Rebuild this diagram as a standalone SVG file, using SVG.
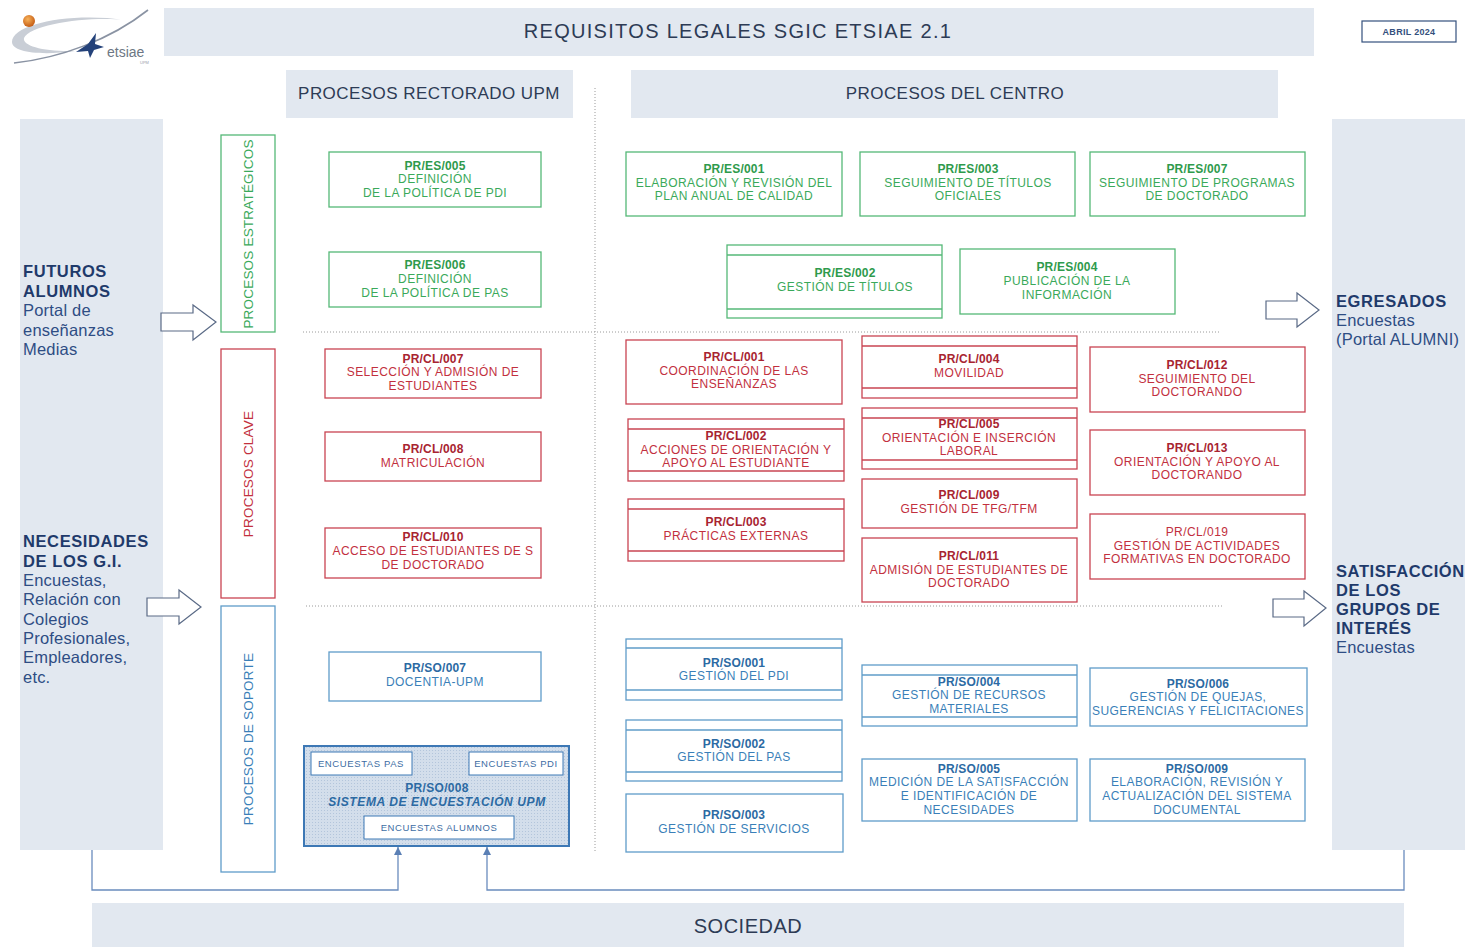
<svg xmlns="http://www.w3.org/2000/svg" width="1465" height="947" viewBox="0 0 1465 947">
<style>
text{font-family:"Liberation Sans",Arial,sans-serif}
.bar{fill:#e2e8f0}
.hdr{font-size:17px;fill:#2d3b55;text-anchor:middle;letter-spacing:0.45px}
.side{font-size:16.5px;fill:#2e4d84;letter-spacing:0.2px}
.sideb{font-size:16.5px;fill:#1f3a6b;font-weight:bold;letter-spacing:0.6px}
.vlab{font-size:13.5px;text-anchor:middle;letter-spacing:0.2px}
.bx{fill:#fff;stroke-width:1.3}
.gr .bx,.gr line{stroke:#55b877}
.rd .bx,.rd line{stroke:#c94452}
.bl .bx,.bl line{stroke:#5f9cc9}
.nt{font-size:12px;text-anchor:middle;letter-spacing:0.45px}
.gr .nt{fill:#3aa95a}
.rd .nt{fill:#c2303e}
.bl .nt{fill:#3a7fb8}
.cd{font-weight:bold;letter-spacing:0.2px}
.gr .cd{fill:#2e9a4c}
.rd .cd{fill:#a82431}
.bl .cd{fill:#2c6aa3}
.dot{stroke:#9a9a9a;stroke-width:1;stroke-dasharray:1 2;fill:none}
.barrow{fill:#fff;stroke:#5a6a86;stroke-width:1.2}
.link{fill:none;stroke:#6a8cbd;stroke-width:1.3}
.enc{fill:#fff;stroke:#3d78b5;stroke-width:1}
.enct{font-size:9.5px;fill:#3d6da3;text-anchor:middle;letter-spacing:0.6px}
</style>
<defs>
<pattern id="dots" width="3" height="3" patternUnits="userSpaceOnUse">
<rect width="3" height="3" fill="#d3deeb"/>
<rect width="1" height="1" fill="#b3c5db"/>
</pattern>
<marker id="ah" markerWidth="8" markerHeight="8" refX="8" refY="4" orient="auto" markerUnits="userSpaceOnUse">
<path d="M0,0 L8,4 L0,8 Z" fill="#5a7fb5"/>
</marker>
<radialGradient id="ball" cx="0.4" cy="0.35" r="0.7">
<stop offset="0" stop-color="#f7b25a"/>
<stop offset="1" stop-color="#c1560f"/>
</radialGradient>
</defs>
<rect width="1465" height="947" fill="#fff"/>

<!-- logo -->
<g id="logo">
<path d="M12,42 C12,24 70,12 125,20 C90,16 30,24 24,38 C22,46 45,52 75,51 C40,56 12,52 12,42 Z" fill="#c9ced6"/>
<path d="M14,63 C60,58 110,40 148,10" fill="none" stroke="#8a93a3" stroke-width="1.6"/>
<path d="M76,52 L88,44 L96,33 L95,44 L104,47 L94,50 L90,58 L88,51 Z" fill="#24427a"/>
<circle cx="29" cy="21" r="6" fill="url(#ball)"/>
<text x="107" y="57" style="font-size:14px;fill:#6d7784">etsiae</text>
<text x="140" y="64" style="font-size:4px;fill:#9aa1ab">UPM</text>
</g>

<!-- header -->
<g id="title">
<rect class="bar" x="164" y="8" width="1150" height="48"/>
<text x="738" y="38" style="font-size:20px;fill:#2d3b55;text-anchor:middle;letter-spacing:1.3px">REQUISITOS LEGALES SGIC ETSIAE 2.1</text>
</g>
<g id="fecha">
<rect x="1362" y="21" width="94" height="21" fill="#fff" stroke="#34507d" stroke-width="1.2"/>
<text x="1409" y="35" style="font-size:9px;font-weight:bold;fill:#34507d;text-anchor:middle;letter-spacing:0.3px">ABRIL 2024</text>
</g>
<g id="rectorado">
<rect class="bar" x="286" y="70" width="287" height="48"/>
<text class="hdr" x="429" y="99">PROCESOS RECTORADO UPM</text>
</g>
<g id="centro">
<rect class="bar" x="631" y="70" width="647" height="48"/>
<text class="hdr" x="955" y="99">PROCESOS DEL CENTRO</text>
</g>

<!-- side columns -->
<g id="entradas">
<rect class="bar" x="20" y="119" width="143" height="731"/>
<text class="sideb" x="23" y="277">FUTUROS</text>
<text class="sideb" x="23" y="297">ALUMNOS</text>
<text class="side" x="23" y="316">Portal de</text>
<text class="side" x="23" y="336">enseñanzas</text>
<text class="side" x="23" y="355">Medias</text>
<text class="sideb" x="23" y="547">NECESIDADES</text>
<text class="sideb" x="23" y="567">DE LOS G.I.</text>
<text class="side" x="23" y="586">Encuestas,</text>
<text class="side" x="23" y="605">Relación con</text>
<text class="side" x="23" y="625">Colegios</text>
<text class="side" x="23" y="644">Profesionales,</text>
<text class="side" x="23" y="663">Empleadores,</text>
<text class="side" x="23" y="683">etc.</text>
</g>
<g id="salidas">
<rect class="bar" x="1332" y="119" width="133" height="731"/>
<text class="sideb" x="1336" y="307">EGRESADOS</text>
<text class="side" x="1336" y="326">Encuestas</text>
<text class="side" x="1336" y="345">(Portal ALUMNI)</text>
<text class="sideb" x="1336" y="577">SATISFACCIÓN</text>
<text class="sideb" x="1336" y="596">DE LOS</text>
<text class="sideb" x="1336" y="615">GRUPOS DE</text>
<text class="sideb" x="1336" y="634">INTERÉS</text>
<text class="side" x="1336" y="653">Encuestas</text>
</g>

<!-- separators -->
<g id="separadores">
<line class="dot" x1="595" y1="88" x2="595" y2="852"/>
<line class="dot" x1="303" y1="332" x2="1220" y2="332"/>
<line class="dot" x1="306" y1="606" x2="1222" y2="606"/>
</g>

<!-- category labels -->
<g id="cat-estrategicos" class="gr">
<rect class="bx" x="221" y="135" width="54" height="197"/>
<text class="vlab" transform="translate(253,234) rotate(-90)" fill="#3aa95a">PROCESOS ESTRATÉGICOS</text>
</g>
<g id="cat-clave" class="rd">
<rect class="bx" x="221" y="349" width="54" height="249"/>
<text class="vlab" transform="translate(253,474) rotate(-90)" fill="#c2303e">PROCESOS CLAVE</text>
</g>
<g id="cat-soporte" class="bl">
<rect class="bx" x="221" y="606" width="54" height="266"/>
<text class="vlab" transform="translate(253,739) rotate(-90)" fill="#3a7fb8">PROCESOS DE SOPORTE</text>
</g>

<!-- Rectorado nodes -->
<g id="es005" class="gr">
<rect class="bx" x="329" y="152" width="212" height="55"/>
<text class="nt cd" x="435" y="170">PR/ES/005</text>
<text class="nt" x="435" y="183">DEFINICIÓN</text>
<text class="nt" x="435" y="197">DE LA POLÍTICA DE PDI</text>
</g>
<g id="es006" class="gr">
<rect class="bx" x="329" y="252" width="212" height="55"/>
<text class="nt cd" x="435" y="269">PR/ES/006</text>
<text class="nt" x="435" y="283">DEFINICIÓN</text>
<text class="nt" x="435" y="297">DE LA POLÍTICA DE PAS</text>
</g>
<g id="cl007" class="rd">
<rect class="bx" x="325" y="349" width="216" height="49"/>
<text class="nt cd" x="433" y="363">PR/CL/007</text>
<text class="nt" x="433" y="376">SELECCIÓN Y ADMISIÓN DE</text>
<text class="nt" x="433" y="390">ESTUDIANTES</text>
</g>
<g id="cl008" class="rd">
<rect class="bx" x="325" y="432" width="216" height="49"/>
<text class="nt cd" x="433" y="453">PR/CL/008</text>
<text class="nt" x="433" y="467">MATRICULACIÓN</text>
</g>
<g id="cl010" class="rd">
<rect class="bx" x="325" y="528" width="216" height="50"/>
<text class="nt cd" x="433" y="541">PR/CL/010</text>
<text class="nt" x="433" y="555">ACCESO DE ESTUDIANTES DE S</text>
<text class="nt" x="433" y="569">DE DOCTORADO</text>
</g>
<g id="so007" class="bl">
<rect class="bx" x="329" y="652" width="212" height="49"/>
<text class="nt cd" x="435" y="672">PR/SO/007</text>
<text class="nt" x="435" y="686">DOCENTIA-UPM</text>
</g>
<g id="so008">
<rect x="304" y="746" width="265" height="100" fill="url(#dots)" stroke="#3d78b5" stroke-width="2"/>
<rect class="enc" x="311" y="752" width="101" height="23"/>
<text class="enct" x="361" y="767">ENCUESTAS  PAS</text>
<rect class="enc" x="469" y="752" width="94" height="23"/>
<text class="enct" x="516" y="767">ENCUESTAS PDI</text>
<text x="437" y="792" style="font-size:12px;font-weight:bold;fill:#2c6aa3;text-anchor:middle;letter-spacing:0.3px">PR/SO/008</text>
<text x="437" y="806" style="font-size:12px;font-weight:bold;font-style:italic;fill:#2c6aa3;text-anchor:middle;letter-spacing:0.6px">SISTEMA DE  ENCUESTACIÓN UPM</text>
<rect class="enc" x="364" y="816" width="150" height="23"/>
<text class="enct" x="439" y="831">ENCUESTAS ALUMNOS</text>
</g>

<!-- Centro: estratégicos -->
<g id="es001" class="gr">
<rect class="bx" x="626" y="152" width="216" height="64"/>
<text class="nt cd" x="734" y="173">PR/ES/001</text>
<text class="nt" x="734" y="187">ELABORACIÓN Y REVISIÓN DEL</text>
<text class="nt" x="734" y="200">PLAN ANUAL DE CALIDAD</text>
</g>
<g id="es003" class="gr">
<rect class="bx" x="860" y="152" width="215" height="64"/>
<text class="nt cd" x="968" y="173">PR/ES/003</text>
<text class="nt" x="968" y="187">SEGUIMIENTO DE TÍTULOS</text>
<text class="nt" x="968" y="200">OFICIALES</text>
</g>
<g id="es007" class="gr">
<rect class="bx" x="1090" y="152" width="215" height="64"/>
<text class="nt cd" x="1197" y="173">PR/ES/007</text>
<text class="nt" x="1197" y="187">SEGUIMIENTO DE PROGRAMAS</text>
<text class="nt" x="1197" y="200">DE DOCTORADO</text>
</g>
<g id="es002" class="gr">
<rect class="bx" x="727" y="245" width="215" height="73"/>
<line x1="727" y1="255" x2="942" y2="255" stroke-width="1.3"/>
<line x1="727" y1="309" x2="942" y2="309" stroke-width="1.3"/>
<text class="nt cd" x="845" y="277">PR/ES/002</text>
<text class="nt" x="845" y="291">GESTIÓN DE TÍTULOS</text>
</g>
<g id="es004" class="gr">
<rect class="bx" x="960" y="249" width="215" height="65"/>
<text class="nt cd" x="1067" y="271">PR/ES/004</text>
<text class="nt" x="1067" y="285">PUBLICACIÓN DE LA</text>
<text class="nt" x="1067" y="299">INFORMACIÓN</text>
</g>

<!-- Centro: clave -->
<g id="cl001" class="rd">
<rect class="bx" x="626" y="340" width="216" height="64"/>
<text class="nt cd" x="734" y="361">PR/CL/001</text>
<text class="nt" x="734" y="375">COORDINACIÓN DE LAS</text>
<text class="nt" x="734" y="388">ENSEÑANZAS</text>
</g>
<g id="cl002" class="rd">
<rect class="bx" x="628" y="419" width="216" height="62"/>
<line x1="628" y1="429" x2="844" y2="429" stroke-width="1.3"/>
<line x1="628" y1="471" x2="844" y2="471" stroke-width="1.3"/>
<text class="nt cd" x="736" y="440">PR/CL/002</text>
<text class="nt" x="736" y="454">ACCIONES DE ORIENTACIÓN Y</text>
<text class="nt" x="736" y="467">APOYO AL ESTUDIANTE</text>
</g>
<g id="cl003" class="rd">
<rect class="bx" x="628" y="499" width="216" height="62"/>
<line x1="628" y1="509" x2="844" y2="509" stroke-width="1.3"/>
<line x1="628" y1="551" x2="844" y2="551" stroke-width="1.3"/>
<text class="nt cd" x="736" y="526">PR/CL/003</text>
<text class="nt" x="736" y="540">PRÁCTICAS EXTERNAS</text>
</g>
<g id="cl004" class="rd">
<rect class="bx" x="862" y="336" width="215" height="62"/>
<line x1="862" y1="346" x2="1077" y2="346" stroke-width="1.3"/>
<line x1="862" y1="388" x2="1077" y2="388" stroke-width="1.3"/>
<text class="nt cd" x="969" y="363">PR/CL/004</text>
<text class="nt" x="969" y="377">MOVILIDAD</text>
</g>
<g id="cl005" class="rd">
<rect class="bx" x="862" y="408" width="215" height="61"/>
<line x1="862" y1="418" x2="1077" y2="418" stroke-width="1.3"/>
<line x1="862" y1="460" x2="1077" y2="460" stroke-width="1.3"/>
<text class="nt cd" x="969" y="428">PR/CL/005</text>
<text class="nt" x="969" y="442">ORIENTACIÓN E INSERCIÓN</text>
<text class="nt" x="969" y="455">LABORAL</text>
</g>
<g id="cl009" class="rd">
<rect class="bx" x="862" y="479" width="215" height="49"/>
<text class="nt cd" x="969" y="499">PR/CL/009</text>
<text class="nt" x="969" y="513">GESTIÓN DE TFG/TFM</text>
</g>
<g id="cl011" class="rd">
<rect class="bx" x="862" y="538" width="215" height="64"/>
<text class="nt cd" x="969" y="560">PR/CL/011</text>
<text class="nt" x="969" y="574">ADMISIÓN DE ESTUDIANTES  DE</text>
<text class="nt" x="969" y="587">DOCTORADO</text>
</g>
<g id="cl012" class="rd">
<rect class="bx" x="1090" y="347" width="215" height="65"/>
<text class="nt cd" x="1197" y="369">PR/CL/012</text>
<text class="nt" x="1197" y="383">SEGUIMIENTO DEL</text>
<text class="nt" x="1197" y="396">DOCTORANDO</text>
</g>
<g id="cl013" class="rd">
<rect class="bx" x="1090" y="430" width="215" height="65"/>
<text class="nt cd" x="1197" y="452">PR/CL/013</text>
<text class="nt" x="1197" y="466">ORIENTACIÓN Y APOYO AL</text>
<text class="nt" x="1197" y="479">DOCTORANDO</text>
</g>
<g id="cl019" class="rd">
<rect class="bx" x="1090" y="514" width="215" height="65"/>
<text class="nt" x="1197" y="536">PR/CL/019</text>
<text class="nt" x="1197" y="550">GESTIÓN DE ACTIVIDADES</text>
<text class="nt" x="1197" y="563">FORMATIVAS EN DOCTORADO</text>
</g>

<!-- Centro: soporte -->
<g id="so001" class="bl">
<rect class="bx" x="626" y="639" width="216" height="61"/>
<line x1="626" y1="648" x2="842" y2="648" stroke-width="1.3"/>
<line x1="626" y1="690" x2="842" y2="690" stroke-width="1.3"/>
<text class="nt cd" x="734" y="667">PR/SO/001</text>
<text class="nt" x="734" y="680">GESTIÓN DEL PDI</text>
</g>
<g id="so002" class="bl">
<rect class="bx" x="626" y="720" width="216" height="61"/>
<line x1="626" y1="730" x2="842" y2="730" stroke-width="1.3"/>
<line x1="626" y1="772" x2="842" y2="772" stroke-width="1.3"/>
<text class="nt cd" x="734" y="748">PR/SO/002</text>
<text class="nt" x="734" y="761">GESTIÓN DEL PAS</text>
</g>
<g id="so003" class="bl">
<rect class="bx" x="626" y="794" width="217" height="58"/>
<text class="nt cd" x="734" y="819">PR/SO/003</text>
<text class="nt" x="734" y="833">GESTIÓN DE SERVICIOS</text>
</g>
<g id="so004" class="bl">
<rect class="bx" x="862" y="665" width="215" height="61"/>
<line x1="862" y1="675" x2="1077" y2="675" stroke-width="1.3"/>
<line x1="862" y1="717" x2="1077" y2="717" stroke-width="1.3"/>
<text class="nt cd" x="969" y="686">PR/SO/004</text>
<text class="nt" x="969" y="699">GESTIÓN DE RECURSOS</text>
<text class="nt" x="969" y="713">MATERIALES</text>
</g>
<g id="so005" class="bl">
<rect class="bx" x="862" y="759" width="215" height="62"/>
<text class="nt cd" x="969" y="773">PR/SO/005</text>
<text class="nt" x="969" y="786">MEDICIÓN DE LA SATISFACCIÓN</text>
<text class="nt" x="969" y="800">E IDENTIFICACIÓN DE</text>
<text class="nt" x="969" y="814">NECESIDADES</text>
</g>
<g id="so006" class="bl">
<rect class="bx" x="1090" y="668" width="217" height="58"/>
<text class="nt cd" x="1198" y="688">PR/SO/006</text>
<text class="nt" x="1198" y="701">GESTIÓN DE QUEJAS,</text>
<text class="nt" x="1198" y="715">SUGERENCIAS Y FELICITACIONES</text>
</g>
<g id="so009" class="bl">
<rect class="bx" x="1090" y="759" width="215" height="62"/>
<text class="nt cd" x="1197" y="773">PR/SO/009</text>
<text class="nt" x="1197" y="786">ELABORACIÓN, REVISIÓN Y</text>
<text class="nt" x="1197" y="800">ACTUALIZACIÓN DEL SISTEMA</text>
<text class="nt" x="1197" y="814">DOCUMENTAL</text>
</g>

<!-- Sociedad -->
<g id="sociedad">
<rect class="bar" x="92" y="903" width="1312" height="44"/>
<text x="748" y="933" style="font-size:20px;fill:#2d3b55;text-anchor:middle;letter-spacing:0.5px">SOCIEDAD</text>
</g>

<!-- connectors -->
<g id="connectors">
<path class="barrow" d="M161,313 H193 V305 L216,322 L193,340 V331 H161 Z"/>
<path class="barrow" d="M147,598 H179 V590 L201,607 L179,624 V616 H147 Z"/>
<path class="barrow" d="M1266,301 H1297 V293 L1319,310 L1297,327 V319 H1266 Z"/>
<path class="barrow" d="M1273,599 H1304 V591 L1326,608 L1304,626 V617 H1273 Z"/>
<path class="link" d="M92,850 V890 H398 V847" marker-end="url(#ah)"/>
<path class="link" d="M1404,850 V890 H487 V847" marker-end="url(#ah)"/>
</g>
</svg>
